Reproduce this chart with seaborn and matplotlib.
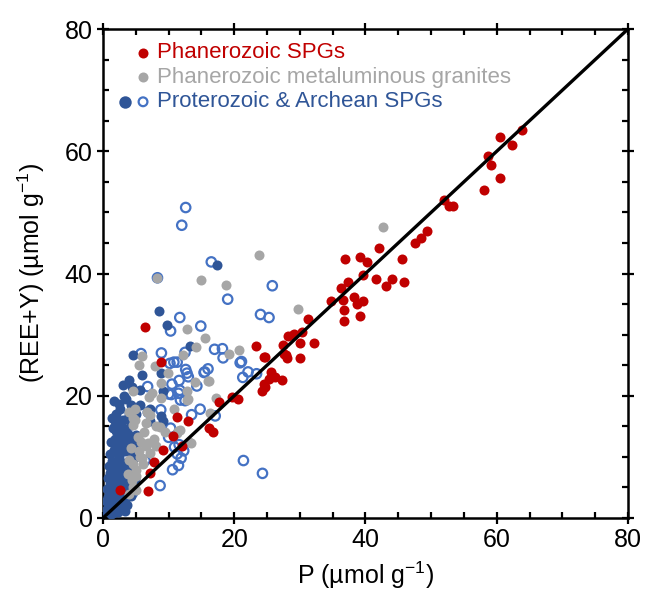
import numpy as np
import pandas as pd
import matplotlib
matplotlib.use("Agg")
import matplotlib.pyplot as plt
from matplotlib.ticker import MultipleLocator
import seaborn as sns

# ── DATA ──────────────────────────────────────────────────────────
# Phanerozoic SPGs (red, filled)
red_x = [63.9, 60.5, 62.3, 58.7, 59.2, 60.5, 58.1, 51.9, 52.8, 53.3,
         49.4, 48.5, 47.6, 42.1, 45.6, 36.9, 39.1, 40.2, 39.6, 37.4,
         41.6, 44.0, 45.9, 43.2, 36.2, 34.8, 36.5, 38.2, 39.6, 38.7,
         36.7, 39.2, 36.7, 31.3, 30.4, 29.1, 28.2, 30.0, 32.2, 27.5,
         27.6, 28.0, 30.0, 24.6, 25.6, 25.3, 26.2, 27.3, 24.6, 24.7,
         24.2, 23.3, 24.7, 27.9, 29.0, 17.7, 19.6, 20.6, 13.0, 16.2,
         16.8, 12.0, 6.4, 8.9, 11.3, 10.7, 9.2, 7.7, 7.2, 6.8, 2.6]
red_y = [63.5, 62.3, 61.1, 59.2, 57.7, 55.6, 53.7, 52.0, 51.0, 51.0,
         46.9, 45.8, 45.0, 44.1, 42.4, 42.4, 42.7, 41.9, 39.8, 38.6,
         39.1, 39.1, 38.6, 37.9, 37.6, 35.5, 35.7, 36.2, 35.5, 35.0,
         34.0, 33.0, 32.2, 32.6, 30.4, 30.1, 29.7, 28.6, 28.6, 28.3,
         26.8, 26.2, 26.2, 26.4, 23.9, 22.7, 23.1, 22.5, 21.9, 21.4,
         20.8, 28.1, 26.4, 26.7, 29.9, 18.9, 19.8, 19.4, 15.8, 14.8,
         14.1, 11.8, 31.2, 25.6, 16.5, 13.4, 11.1, 9.1, 7.4, 4.4, 4.6]

# Phanerozoic metaluminous granites (grey, filled)
grey_x = [42.6, 23.7, 14.9, 18.7, 29.7, 12.8, 15.6, 14.2, 20.7, 19.2,
          6.0, 12.2, 5.5, 7.9, 9.9, 16.1, 14.0, 8.8, 4.6, 7.5,
          7.0, 8.9, 12.8, 12.8, 13.0, 17.2, 4.9, 4.0, 10.8, 4.5,
          4.9, 6.7, 7.2, 16.3, 11.4, 13.4, 13.1, 4.6, 4.2, 4.6,
          5.1, 4.4, 6.6, 7.2, 7.7, 8.7, 11.2, 5.6, 6.1, 5.1,
          4.6, 11.7, 5.8, 6.3, 5.3, 6.9, 8.1, 6.0, 3.8, 4.0,
          5.5, 6.5, 8.0, 9.5, 5.0, 4.0, 16.0, 8.3]
grey_y = [47.6, 43.0, 38.9, 38.2, 34.2, 31.0, 29.4, 28.0, 27.5, 26.8,
          26.5, 26.7, 25.1, 24.9, 23.7, 22.4, 22.3, 22.1, 20.7, 20.5,
          19.8, 19.6, 20.8, 19.3, 19.4, 19.7, 17.9, 17.4, 17.9, 16.3,
          16.0, 17.4, 16.9, 17.2, 14.2, 12.3, 12.4, 15.2, 11.4, 8.9,
          7.9, 6.2, 11.7, 10.6, 13.0, 14.9, 13.9, 10.0, 8.9, 6.8,
          5.1, 14.4, 12.5, 14.0, 13.2, 12.2, 11.8, 9.8, 7.2, 9.5,
          11.0, 15.5, 15.0, 14.0, 4.5, 4.0, 22.4, 39.3]

# Proterozoic & Archean SPGs, filled (dark blue)
blue_x = [8.6, 9.7, 17.3, 13.3, 4.6, 6.0, 8.8, 4.0, 5.6, 9.2,
          3.5, 2.6, 5.6, 1.8, 3.1, 7.2, 7.2, 8.9, 9.2,
          1.5, 2.0, 2.8, 3.4, 4.2, 3.8, 2.5, 4.6,
          1.2, 1.8, 2.3, 3.0, 3.6, 4.1, 5.0, 5.3,
          1.0, 1.6, 2.1, 2.7, 3.3, 3.9, 4.4, 2.4, 5.2,
          0.9, 1.3, 1.9, 2.5, 3.0, 3.6, 4.0, 1.6, 2.8, 4.5,
          0.7, 1.1, 1.6, 2.2, 2.6, 3.1, 3.5, 1.9, 3.9,
          0.6, 1.0, 1.4, 1.9, 2.3, 2.8, 3.2, 3.6, 2.0, 1.2,
          0.4, 0.8, 1.2, 1.6, 2.1, 2.6, 3.0, 3.4, 1.8, 2.4,
          0.3, 0.7, 1.1, 1.5, 2.0, 2.5, 3.0, 2.3, 1.2,
          2.0, 2.4, 3.2, 1.4, 3.9, 4.2, 3.0, 1.7, 5.0, 4.4, 2.3, 3.6,
          4.3, 3.7, 4.8, 4.0, 3.3, 0.9, 1.5]
blue_y = [33.8, 31.6, 41.4, 28.1, 26.7, 23.4, 23.7, 22.6, 20.9, 20.8,
          19.4, 17.9, 18.5, 15.9, 16.0, 17.9, 15.9, 16.7, 15.8,
          14.8, 14.2, 15.0, 14.5, 15.2, 13.8, 13.5, 13.0,
          12.5, 13.0, 12.2, 12.8, 12.3, 12.0, 13.5, 12.5,
          10.5, 11.2, 10.8, 11.5, 10.9, 11.3, 10.4, 10.1, 11.0,
          8.5, 9.3, 8.8, 9.5, 8.6, 9.2, 8.3, 8.0, 7.9, 9.6,
          6.5, 7.3, 6.8, 7.4, 6.3, 7.0, 6.6, 6.0, 7.5,
          4.8, 5.5, 4.6, 5.2, 4.5, 5.4, 4.8, 5.6, 4.0, 4.0,
          2.8, 3.5, 2.6, 3.3, 2.8, 3.4, 2.5, 3.1, 2.2, 2.0,
          1.2, 1.8, 1.0, 1.6, 1.3, 1.5, 1.7, 0.9, 0.6,
          17.0, 18.6, 20.0, 16.3, 17.2, 18.5, 21.8, 19.1, 17.0, 21.4, 15.7, 16.2,
          3.6, 2.2, 6.3, 5.0, 1.2, 2.4, 0.8]

# Proterozoic & Archean SPGs, open (blue rings)
open_x = [12.6, 12.0, 16.5, 8.3, 25.8, 19.0, 11.7, 14.9, 24.0, 25.3,
          10.3, 17.0, 18.2, 18.3, 20.9, 5.8, 8.9, 12.5, 10.2, 10.8,
          11.3, 12.6, 12.8, 13.0, 11.6, 10.5, 15.5, 16.0, 15.4, 14.3,
          6.8, 10.0, 10.4, 11.7, 11.5, 11.8, 12.5, 8.8, 6.9, 10.3,
          10.0, 14.8, 13.5, 17.1, 11.3, 11.5, 10.6, 8.7, 6.4, 4.5,
          0.8, 21.1, 22.1, 23.4, 21.3, 21.4, 24.3, 11.6, 12.3, 11.9, 10.9]
open_y = [50.8, 47.9, 41.9, 39.3, 38.0, 35.8, 32.8, 31.4, 33.3, 32.8,
          30.6, 27.6, 27.7, 26.2, 25.4, 26.9, 27.0, 27.1, 25.3, 25.5,
          25.5, 24.3, 23.7, 23.1, 22.5, 21.9, 23.9, 24.4, 23.8, 21.6,
          21.5, 20.3, 20.2, 20.9, 20.4, 19.3, 19.2, 17.7, 17.3, 14.7,
          13.2, 17.8, 16.9, 16.7, 10.5, 8.6, 7.9, 5.3, 9.4, 4.1,
          2.2, 25.6, 23.9, 23.6, 23.0, 9.4, 7.3, 12.0, 11.0, 9.8, 11.6]

RED = "#C00000"
GREY = "#A6A6A6"
DBLUE = "#2F5597"
LBLUE = "#4472C4"

# ── STYLE ─────────────────────────────────────────────────────────
sns.set_style("ticks")
plt.rcParams["font.family"] = ["Liberation Sans", "DejaVu Sans"]
plt.rcParams["mathtext.fontset"] = "custom"
plt.rcParams["mathtext.rm"] = "Liberation Sans"
plt.rcParams["mathtext.default"] = "regular"
plt.rcParams["text.color"] = "black"
plt.rcParams["axes.labelcolor"] = "black"
plt.rcParams["xtick.color"] = "black"
plt.rcParams["ytick.color"] = "black"
plt.rcParams["axes.edgecolor"] = "black"

fig = plt.figure(figsize=(6.45, 5.93), dpi=100)
ax = fig.add_axes([0.1597, 0.1265, 0.8139, 0.8245])

# ── SCATTER ───────────────────────────────────────────────────────
ms = 52
sns.scatterplot(x=open_x, y=open_y, ax=ax, marker="o", s=46,
                facecolors="none", edgecolor=LBLUE, linewidth=1.6, zorder=2)
sns.scatterplot(x=blue_x, y=blue_y, ax=ax, color=DBLUE, s=ms,
                linewidth=0, zorder=3)
sns.scatterplot(x=grey_x, y=grey_y, ax=ax, color=GREY, s=ms,
                linewidth=0, zorder=4)
sns.scatterplot(x=red_x, y=red_y, ax=ax, color=RED, s=ms,
                linewidth=0, zorder=5)

# 1:1 line
ax.plot([0, 80], [0, 80], color="black", lw=2.4, zorder=6)

# ── AXES ──────────────────────────────────────────────────────────
ax.set_xlim(0, 80)
ax.set_ylim(0, 80)
ax.xaxis.set_major_locator(MultipleLocator(20))
ax.yaxis.set_major_locator(MultipleLocator(20))
ax.xaxis.set_minor_locator(MultipleLocator(5))
ax.yaxis.set_minor_locator(MultipleLocator(5))
ax.tick_params(which="major", direction="inout", length=9, width=1.6,
               labelsize=18, top=True, right=True, pad=3)
ax.tick_params(which="minor", direction="in", length=4, width=1.6,
               top=True, right=True)
for sp in ax.spines.values():
    sp.set_linewidth(1.8)
    sp.set_visible(True)

ax.set_xlabel("P (µmol g$^{-1}$)", fontsize=18, labelpad=5)
ax.set_ylabel("(REE+Y) (µmol g$^{-1}$)", fontsize=18, labelpad=13)

# ── LEGEND (drawn as markers + coloured text) ─────────────────────
ax.scatter([6.1], [76.1], s=ms, color=RED, lw=0, zorder=7)
ax.scatter([6.1], [72.1], s=ms, color=GREY, lw=0, zorder=7)
ax.scatter([3.3], [68.1], s=80, color=DBLUE, lw=0, zorder=7)
ax.scatter([6.1], [68.1], s=40, facecolors="none", edgecolors=LBLUE,
           lw=1.6, zorder=7)
ax.text(8.3, 76.1, "Phanerozoic SPGs", color=RED, fontsize=16, va="center")
ax.text(8.3, 72.1, "Phanerozoic metaluminous granites", color=GREY,
        fontsize=16, va="center")
ax.text(8.3, 68.1, "Proterozoic & Archean SPGs", color=DBLUE, fontsize=16,
        va="center")

plt.savefig("out.png", dpi=100)
